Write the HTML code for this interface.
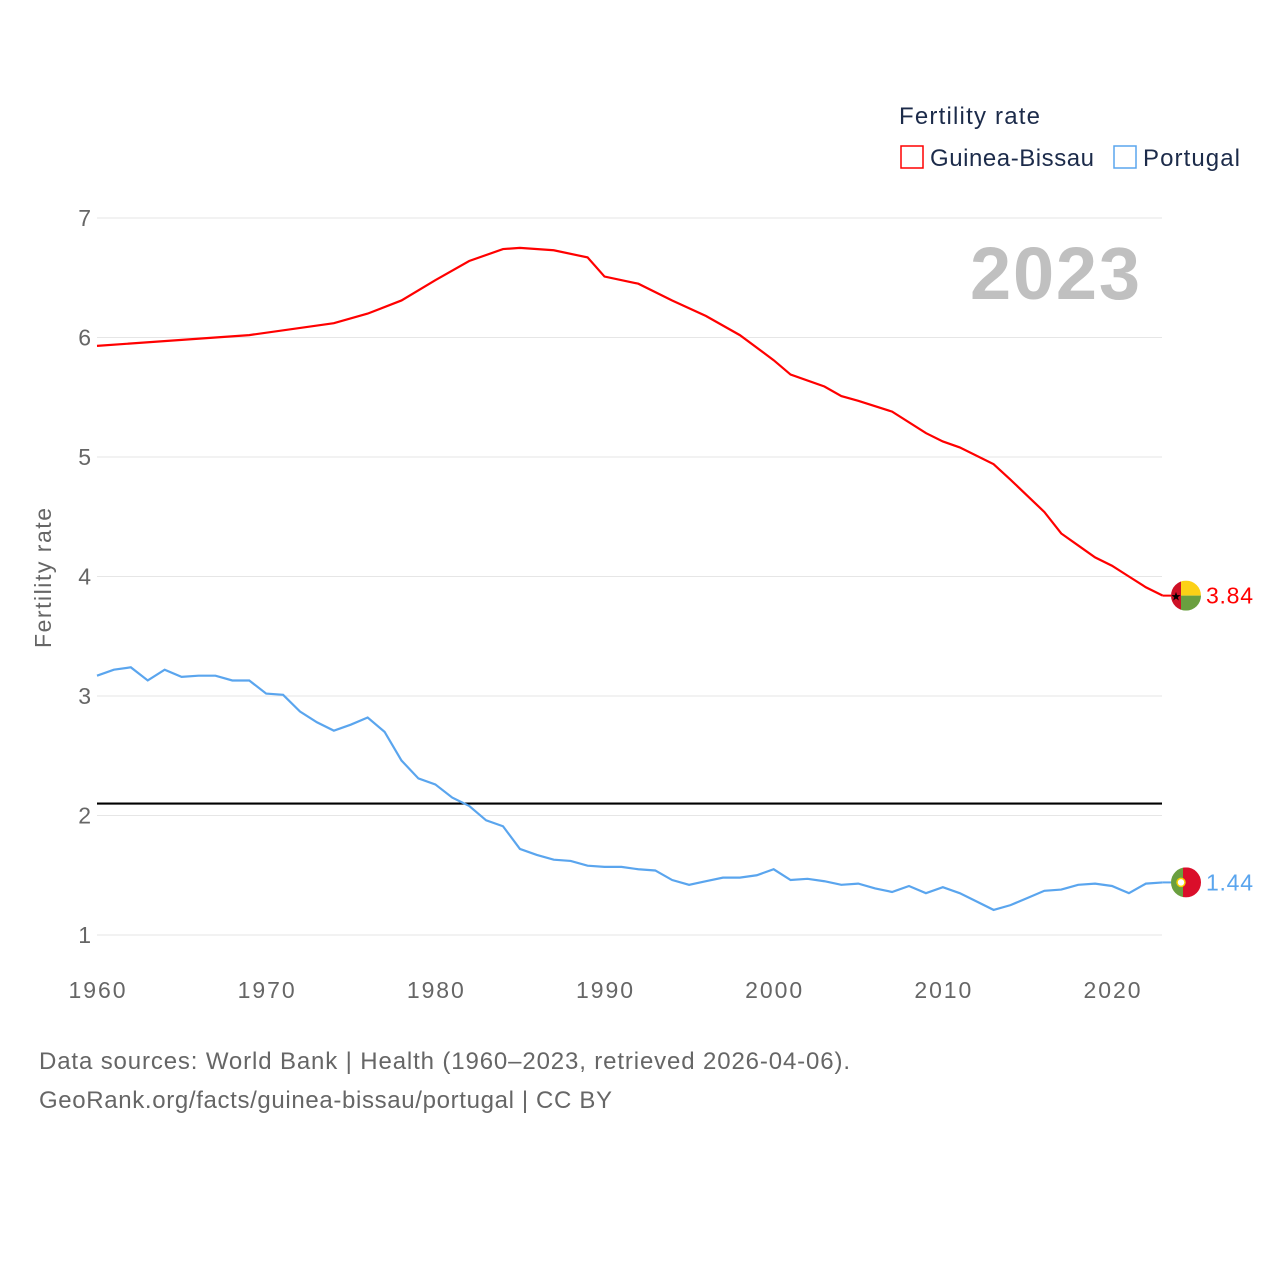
<!DOCTYPE html>
<html><head><meta charset="utf-8"><style>
body{margin:0;background:#fff;width:1280px;height:1280px;overflow:hidden;font-family:"Liberation Sans",sans-serif}
</style></head><body>
<svg id="chart" width="1280" height="1280" xmlns="http://www.w3.org/2000/svg" style="font-family:'Liberation Sans',sans-serif">
<g id="grid"></g>
<g id="axes"></g>
<text transform="translate(51,578) rotate(-90)" text-anchor="middle" font-size="23" fill="#666" textLength="140">Fertility rate</text>
<text x="1140" y="299" text-anchor="end" font-size="74" font-weight="bold" fill="#c0c0c0" textLength="170">2023</text>
<g>
<text x="899" y="124" font-size="24" fill="#1c2b4a" textLength="141">Fertility rate</text>
<g><rect x="901" y="146" width="22" height="22" fill="none" stroke="#ff0000" stroke-width="1.5"/><text x="930" y="166" font-size="24" fill="#1c2b4a" textLength="164">Guinea-Bissau</text></g>
<g><rect x="1114" y="146" width="22" height="22" fill="none" stroke="#5aa5ee" stroke-width="1.5"/><text x="1143" y="166" font-size="24" fill="#1c2b4a" textLength="97">Portugal</text></g>
</g>
<g id="series"></g>
<text x="39" y="1069" font-size="24" fill="#666" textLength="811">Data sources: World Bank | Health (1960–2023, retrieved 2026-04-06).</text>
<text x="39" y="1108" font-size="24" fill="#666" textLength="573">GeoRank.org/facts/guinea-bissau/portugal | CC BY</text>
</svg>
<script>
const years=[];for(let y=1960;y<=2023;y++)years.push(y);
const yTicks=[1,2,3,4,5,6,7];
const xTicks=[1960,1970,1980,1990,2000,2010,2020];
const refValue=2.1;
const gbKeys=[1960,1967,1969,1974,1976,1978,1980,1982,1984,1985,1987,1989,1990,1992,1994,1996,1998,2000,2001,2003,2004,2005,2007,2009,2010,2011,2013,2014,2016,2017,2018,2019,2020,2021,2022,2023];
const gbVals=[5.93,6.00,6.02,6.12,6.20,6.31,6.48,6.64,6.74,6.75,6.73,6.67,6.51,6.45,6.31,6.18,6.02,5.81,5.69,5.59,5.51,5.47,5.38,5.20,5.13,5.08,4.94,4.81,4.54,4.36,4.26,4.16,4.09,4.00,3.91,3.84];
const ptVals=[3.17,3.22,3.24,3.13,3.22,3.16,3.17,3.17,3.13,3.13,3.02,3.01,2.87,2.78,2.71,2.76,2.82,2.70,2.46,2.31,2.26,2.15,2.08,1.96,1.91,1.72,1.67,1.63,1.62,1.58,1.57,1.57,1.55,1.54,1.46,1.42,1.45,1.48,1.48,1.50,1.55,1.46,1.47,1.45,1.42,1.43,1.39,1.36,1.41,1.35,1.40,1.35,1.28,1.21,1.25,1.31,1.37,1.38,1.42,1.43,1.41,1.35,1.43,1.44];
const NS="http://www.w3.org/2000/svg";
const X=v=>97+(v-1960)*(1015/60);
const Y=v=>218+(7-v)*119.5;
function mk(t,a,p){const e=document.createElementNS(NS,t);for(const k in a)e.setAttribute(k,a[k]);p.appendChild(e);return e;}
const grid=document.getElementById('grid'),axes=document.getElementById('axes'),ser=document.getElementById('series');
yTicks.forEach(v=>{
 const l=mk('line',{x1:97,x2:1162,y1:Y(v),y2:Y(v),stroke:'#e6e6e6','stroke-width':1},grid);
 
 
 const t=mk('text',{x:91,y:Y(v)+8,'text-anchor':'end','font-size':23,fill:'#666'},axes);t.textContent=v;
 
 
});
xTicks.forEach(v=>{
 const t=mk('text',{x:X(v),y:998,'text-anchor':'middle','font-size':23,fill:'#666',textLength:57},axes);t.textContent=v;
 
 
});
const ref=mk('line',{x1:97,x2:1162,y1:Y(refValue),y2:Y(refValue),stroke:'#000','stroke-width':2.2},ser);


const gb=mk('polyline',{points:gbKeys.map((y,i)=>X(y)+','+Y(gbVals[i])).join(' '),fill:'none',stroke:'#ff0000','stroke-width':2.2},ser);


const pt=mk('polyline',{points:years.map((y,i)=>X(y)+','+Y(ptVals[i])).join(' '),fill:'none',stroke:'#5aa5ee','stroke-width':2.2},ser);


const lx=X(2023);
const gv=gbVals[gbVals.length-1],pv=ptVals[ptVals.length-1];
const cx=1186;
function flagGB(cy){
 const g=mk('g',{},ser);
 mk('line',{x1:lx,x2:cx-15,y1:cy,y2:cy,stroke:'#ff0000','stroke-width':2},g);
 const cp=mk('clipPath',{id:'cgb'},g);mk('circle',{cx:cx,cy:cy,r:15},cp);
 const f=mk('g',{'clip-path':'url(#cgb)'},g);
 mk('rect',{x:cx-15,y:cy-15,width:10,height:30,fill:'#ce1126'},f);
 mk('rect',{x:cx-5,y:cy-15,width:20,height:15,fill:'#fcd116'},f);
 mk('rect',{x:cx-5,y:cy,width:20,height:15,fill:'#6a9f3f'},f);
 const s=mk('text',{x:cx-10,y:cy+5,'text-anchor':'middle','font-size':12,fill:'#000'},f);s.textContent='★';
 const t=mk('text',{x:1206,y:cy+8,'font-size':23,fill:'#ff0000',textLength:47},g);t.textContent=gv.toFixed(2);
 
 
}
function flagPT(cy){
 const g=mk('g',{},ser);
 mk('line',{x1:lx,x2:cx-15,y1:cy,y2:cy,stroke:'#5aa5ee','stroke-width':2},g);
 const cp=mk('clipPath',{id:'cpt'},g);mk('circle',{cx:cx,cy:cy,r:15},cp);
 const f=mk('g',{'clip-path':'url(#cpt)'},g);
 mk('rect',{x:cx-15,y:cy-15,width:12,height:30,fill:'#6a9f3f'},f);
 mk('rect',{x:cx-3,y:cy-15,width:18,height:30,fill:'#da0e2a'},f);
 mk('circle',{cx:cx-5,cy:cy,r:4,fill:'#fff',stroke:'#f5d000','stroke-width':1.5},f);
 const t=mk('text',{x:1206,y:cy+8,'font-size':23,fill:'#5aa5ee',textLength:47},g);t.textContent=pv.toFixed(2);
 
 
}
flagGB(Y(gv));flagPT(Y(pv));
</script>
</body></html>
